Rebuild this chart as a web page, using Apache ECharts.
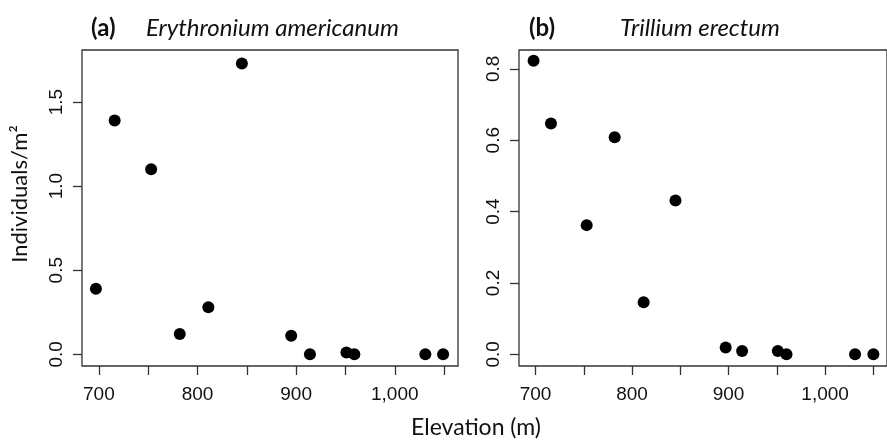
<!DOCTYPE html>
<html>
<head>
<meta charset="utf-8">
<script src="https://cdn.jsdelivr.net/npm/echarts@6/dist/echarts.min.js"></script>
<style>html,body{margin:0;padding:0;background:#fff}#c{width:887px;height:441px}</style>
</head>
<body>
<div id="c"></div>
<script>
// Panel (a) Erythronium americanum
var elevA = [697, 716, 753, 782, 811, 845, 895, 914, 951, 959, 1031, 1049];
var densA = [0.39, 1.39, 1.10, 0.12, 0.28, 1.73, 0.11, 0.0, 0.01, 0.0, 0.0, 0.0];
// Panel (b) Trillium erectum
var elevB = [698, 716, 753, 782, 812, 845, 897, 914, 951, 960, 1031, 1050];
var densB = [0.823, 0.647, 0.362, 0.608, 0.146, 0.431, 0.019, 0.009, 0.009, 0.0, 0.0, 0.0];

var xTicks = [700, 750, 800, 850, 900, 950, 1000, 1050];
var xLabels = [700, 800, 900, 1000];
var yTicksA = [0, 0.5, 1.0, 1.5];
var yTicksB = [0, 0.2, 0.4, 0.6, 0.8];
var titleA = ['(a)', 'Erythronium americanum'];
var titleB = ['(b)', 'Trillium erectum'];
var yName = 'Individuals/m²';
var xName = 'Elevation (m)';

function pairs(xs, ys) { return xs.map(function (x, i) { return [x, ys[i]]; }); }
function fmtX(v) { return v >= 1000 ? String(v).replace(/(\d)(?=(\d{3})+$)/g, '$1,') : String(v); }

var axisFont = 'Liberation Sans, Arial, sans-serif';
var textFont = 'Lato, Open Sans, sans-serif';
var lineCol = '#333';

function xAxis(idx) {
  return {
    type: 'value', gridIndex: idx, min: 682.9, max: 1064.1,
    axisLine: { show: false, onZero: false },
    splitLine: { show: false },
    axisTick: { show: true, length: 9, lineStyle: { color: lineCol, width: 1.3 }, customValues: xTicks },
    axisLabel: { color: '#111', fontSize: 19, fontFamily: axisFont, margin: 19, customValues: xLabels, formatter: fmtX }
  };
}
function yAxis(idx, min, max, ticks, decimals) {
  return {
    type: 'value', gridIndex: idx, min: min, max: max,
    axisLine: { show: false, onZero: false },
    splitLine: { show: false },
    axisTick: { show: true, length: 9, lineStyle: { color: lineCol, width: 1.3 }, customValues: ticks },
    axisLabel: { color: '#111', fontSize: 19, fontFamily: axisFont, margin: 16, rotate: 90, customValues: ticks,
      formatter: function (v) { return Number(v).toFixed(decimals); } }
  };
}

var chart = echarts.init(document.getElementById('c'), null, { renderer: 'canvas' });
chart.setOption({
  animation: false,
  backgroundColor: '#fff',
  grid: [
    { left: 82, top: 50, width: 376, height: 316, show: true, borderColor: lineCol, borderWidth: 1.3, backgroundColor: 'transparent' },
    { left: 519, top: 50, width: 376, height: 316, show: true, borderColor: lineCol, borderWidth: 1.3, backgroundColor: 'transparent' }
  ],
  xAxis: [xAxis(0), xAxis(1)],
  yAxis: [yAxis(0, -0.0696, 1.8096, yTicksA, 1), yAxis(1, -0.0328, 0.8528, yTicksB, 1)],
  series: [
    { type: 'scatter', xAxisIndex: 0, yAxisIndex: 0, data: pairs(elevA, densA), symbolSize: 12, itemStyle: { color: '#000', opacity: 1 } },
    { type: 'scatter', xAxisIndex: 1, yAxisIndex: 1, data: pairs(elevB, densB), symbolSize: 12, itemStyle: { color: '#000', opacity: 1 } }
  ],
  graphic: [
    { type: 'text', x: 91, y: 28, style: { text: titleA[0], font: 'bold 24px ' + textFont, fill: '#111', textVerticalAlign: 'middle' } },
    { type: 'text', x: 146, y: 28, style: { text: titleA[1], font: 'italic 24px ' + textFont, fill: '#111', textVerticalAlign: 'middle' } },
    { type: 'text', x: 529, y: 28, style: { text: titleB[0], font: 'bold 24px ' + textFont, fill: '#111', textVerticalAlign: 'middle' } },
    { type: 'text', x: 620, y: 28, style: { text: titleB[1], font: 'italic 24px ' + textFont, fill: '#111', textVerticalAlign: 'middle' } },
    { type: 'text', x: 476, y: 428, style: { text: xName, font: '23px ' + textFont, fill: '#111', textAlign: 'center', textVerticalAlign: 'middle' } },
    { type: 'text', x: 20, y: 194, rotation: Math.PI / 2, style: { text: yName, font: '22px ' + textFont, fill: '#111', textAlign: 'center', textVerticalAlign: 'middle' } }
  ]
});
</script>
</body>
</html>
